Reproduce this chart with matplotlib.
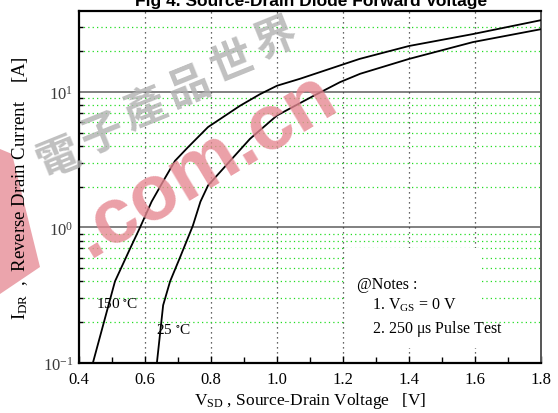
import numpy as np
import matplotlib
matplotlib.use("Agg")
import matplotlib.pyplot as plt
from matplotlib.ticker import FixedLocator, LogLocator, NullFormatter, FixedFormatter
from matplotlib.patches import Polygon, Rectangle

# Forward diode characteristic, reverse drain current vs source-drain voltage
v_150 = [0.442, 0.509, 0.555, 0.585, 0.62, 0.66, 0.691, 0.73, 0.791, 0.888, 0.948, 1.0, 1.07, 1.25, 1.40, 1.594, 1.8]
i_150 = [0.10, 0.40, 0.70, 1.0, 1.55, 2.3, 3.1, 3.9, 5.5, 7.9, 9.6, 11.1, 12.5, 17.5, 21.8, 26.7, 33.8]

v_25 = [0.636, 0.655, 0.676, 0.706, 0.745, 0.768, 0.791, 0.836, 0.858, 0.918, 1.0, 1.109, 1.191, 1.252, 1.40, 1.594, 1.8]
i_25 = [0.10, 0.267, 0.40, 0.60, 1.03, 1.55, 2.04, 2.7, 3.1, 4.5, 6.7, 9.3, 11.8, 13.6, 17.5, 23.3, 29.0]

x_ticks = [0.4, 0.6, 0.8, 1.0, 1.2, 1.4, 1.6, 1.8]
x_tick_labels = ["0.4", "0.6", "0.8", "1.0", "1.2", "1.4", "1.6", "1.8"]
y_ticks = [0.1, 1.0, 10.0]
y_tick_labels = [r"$\mathregular{10^{-1}}$", r"$\mathregular{10^{0}}$", r"$\mathregular{10^{1}}$"]

serif = "Liberation Serif"

W, H = 558, 414
fig = plt.figure(figsize=(W / 100, H / 100), dpi=100)
ax = fig.add_axes([79 / W, 1 - 364 / H, (541 - 79) / W, (364 - 12) / H])

ax.set_yscale("log")
ax.set_xlim(0.4, 1.8)
ax.set_ylim(0.1, 39.5)

# grid: green dotted minor horizontals, grey solid decades, black dotted verticals
ax.yaxis.set_minor_locator(LogLocator(base=10, subs=np.arange(2, 10)))
ax.yaxis.set_minor_formatter(NullFormatter())
ax.grid(which="minor", axis="y", color="#22dd22", linestyle=(0, (1, 2.5)), linewidth=0.9, zorder=0)
for yv in [1.0, 10.0]:
    ax.axhline(yv, color="#808080", linewidth=1.4, zorder=1)
for xv in x_ticks[1:-1]:
    ax.axvline(xv, color="#333333", linestyle=(0, (1, 3)), linewidth=0.9, zorder=1)

ax.xaxis.set_major_locator(FixedLocator(x_ticks))
ax.xaxis.set_major_formatter(FixedFormatter(x_tick_labels))
ax.xaxis.set_minor_locator(FixedLocator(np.arange(0.5, 1.8, 0.2)))
ax.yaxis.set_major_locator(FixedLocator(y_ticks))
ax.yaxis.set_major_formatter(FixedFormatter(y_tick_labels))

ax.tick_params(axis="both", which="both", direction="in", top=False, right=False)
ax.tick_params(axis="x", which="major", length=5, width=1, pad=6)
ax.tick_params(axis="x", which="minor", length=4, width=1)
ax.tick_params(axis="y", which="major", length=0, pad=4)
ax.tick_params(axis="y", which="minor", length=3, width=1)
for lbl in ax.get_xticklabels():
    lbl.set_fontfamily(serif)
    lbl.set_fontsize(12)
for lbl in ax.get_yticklabels():
    lbl.set_fontfamily(serif)
    lbl.set_fontsize(12)
    lbl.set_color("#3a3a3a")

for side in ["left", "bottom", "top"]:
    ax.spines[side].set_color("black")
    ax.spines[side].set_linewidth(1.6)
ax.spines["right"].set_color("#555555")
ax.spines["right"].set_linewidth(1.4)

# notes box hides grid behind the text
ax.add_patch(Rectangle((1.205, 0.128), 0.41, 0.58, facecolor="white", edgecolor="none", zorder=2))

ax.plot(v_150, i_150, color="black", linewidth=1.3, zorder=4)
ax.plot(v_25, i_25, color="black", linewidth=1.3, zorder=4)

ax.text(0.452, 0.26, r"150 $\mathregular{^{\circ}}$C", fontfamily=serif, fontsize=11, zorder=5)
ax.text(0.633, 0.166, r"25 $\mathregular{^{\circ}}$C", fontfamily=serif, fontsize=11, zorder=5)

ax.text(1.243, 0.355, "@Notes :", fontfamily=serif, fontsize=11.5, zorder=5)
ax.text(1.288, 0.252, r"1. V$\mathregular{_{GS}}$ = 0 V", fontfamily=serif, fontsize=11.5, zorder=5)
ax.text(1.288, 0.170, r"2. 250 $\mathregular{\mu}$s Pulse Test", fontfamily=serif, fontsize=11.5, zorder=5)

ax.set_xlabel(r"V$\mathregular{_{SD}}$ , Source-Drain Voltage   [V]", fontfamily=serif, fontsize=12.5, labelpad=2)
ax.set_ylabel(r"I$\mathregular{_{DR}}$  ,  Reverse Drain Current    [A]", fontfamily=serif, fontsize=13.5, labelpad=9)

fig.text(311 / W, 1 - 6 / H, "Fig 4. Source-Drain Diode Forward Voltage", ha="center", va="baseline",
         fontfamily="Liberation Sans", fontweight="bold", fontsize=12.5)

# site watermark
fig.patches.append(Polygon([(0, 1 - 150 / H), (12 / W, 1 - 155 / H), (40 / W, 1 - 268 / H), (0, 1 - 295 / H)],
                           closed=True, transform=fig.transFigure, facecolor="#eba4ac", edgecolor="none",
                           zorder=-1))
fig.text(205 / W, 1 - 165 / H, ".com.cn", ha="center", va="center", rotation=31,
         fontfamily="Liberation Sans", fontweight="bold", fontsize=56, color="#e68892", alpha=0.8, zorder=3)
wm_chars = "電子產品世界"
x0, y0, x1, y1 = 58, 158, 275, 38
for k, ch in enumerate(wm_chars):
    t = k / (len(wm_chars) - 1)
    fig.text((x0 + t * (x1 - x0)) / W, 1 - (y0 + t * (y1 - y0)) / H, ch, ha="center", va="center",
             rotation=22, fontfamily=["Noto Sans CJK TC", "DejaVu Sans"], fontweight="bold",
             fontsize=31, color="#b0b0b0", alpha=0.8, zorder=3)

fig.savefig("out.png", dpi=100)
